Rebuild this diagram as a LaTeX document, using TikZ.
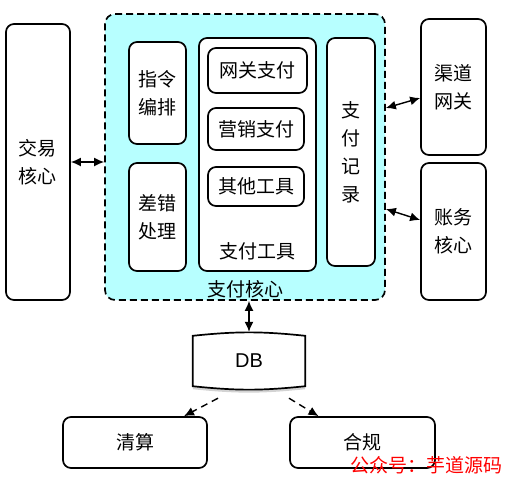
\documentclass[tikz,border=0pt]{standalone}
\usepackage{fontspec}
\newfontfamily\cjk{Noto Sans CJK SC}
\newfontfamily\latn{Liberation Sans}
\usetikzlibrary{arrows.meta,shadows}
\definecolor{corecyan}{RGB}{183,255,255}
\tikzset{
  box/.style={draw,line width=1.7pt,rounded corners=8pt,fill=white,inner sep=0pt,align=center,
    font=\cjk\fontsize{19}{28}\selectfont},
  lbl/.style={inner sep=0pt,align=center,font=\cjk\fontsize{19}{28}\selectfont},
  dblarrow/.style={line width=1.4pt,{Latex[length=10pt,width=9pt]}-{Latex[length=10pt,width=9pt]}},
  dasharrow/.style={line width=1.4pt,dash pattern=on 7pt off 5pt,-{Latex[length=10pt,width=9pt]}},
}
\begin{document}
\begin{tikzpicture}[x=1pt,y=-1pt]
    \useasboundingbox (0,0) rectangle (517,485);
    % outer systems
    \node[box,minimum width=64pt,minimum height=276pt] (trade) at (38,162) {交易\\核心};
    \node[box,minimum width=65pt,minimum height=136pt] (gw) at (453.5,87) {渠道\\网关};
    \node[box,minimum width=65pt,minimum height=137pt] (acct) at (453.5,231.5) {账务\\核心};
    % payment core
    \node[box,fill=corecyan,dash pattern=on 7pt off 4pt,rounded corners=10pt,
        minimum width=280pt,minimum height=286pt] (core) at (245,157) {};
    \node[lbl] (corelbl) at ([yshift=12pt]core.south) {支付核心};
    \node[box,minimum width=57pt,minimum height=102pt] (order) at (157.5,93) {指令\\编排};
    \node[box,minimum width=57pt,minimum height=108pt] (fault) at (157.5,217) {差错\\处理};
    \node[box,minimum width=117pt,minimum height=233pt] (tools) at (257.5,154.5) {};
    \node[lbl] (toolslbl) at ([yshift=21pt]tools.south) {支付工具};
    \node[box,minimum width=99pt,minimum height=45pt] (gwpay) at (257.5,70.5) {网关支付};
    \node[box,minimum width=96pt,minimum height=42pt] (mktpay) at (256,129) {营销支付};
    \node[box,minimum width=96pt,minimum height=39pt] (other) at (256,186.5) {其他工具};
    \node[box,minimum width=48pt,minimum height=228pt] (record) at (351,152) {支\\付\\记\\录};
    % storage and consumers
    \node[minimum width=112pt,minimum height=58pt,inner sep=0pt] (db) at (249,361) {};
    \draw[line width=1.7pt,fill=white,drop shadow={shadow xshift=0pt,shadow yshift=-3pt,opacity=0.35}]
        ([yshift=-4pt]db.north west) to[bend left=6] ([yshift=-4pt]db.north east)
        -- ([yshift=4pt]db.south east) to[bend left=6] ([yshift=4pt]db.south west) -- cycle;
    \node[font=\latn\fontsize{20}{22}\selectfont] (dblbl) at (db.center) {DB};
    \node[box,minimum width=144pt,minimum height=51pt] (clear) at (135,442.5) {清算};
    \node[box,minimum width=145pt,minimum height=51pt] (comply) at (362.5,442.5) {合规};
    % connectors
    \draw[dblarrow] (trade.east) -- (trade.east -| core.west);
    \draw[dblarrow] ([yshift=49pt]core.east) -- ([yshift=-11pt]gw.west);
    \draw[dblarrow] ([yshift=-52pt]core.east) -- ([yshift=11.5pt]acct.west);
    \draw[dblarrow] (db.north |- core.south) -- (db.north);
    \draw[dasharrow] ([xshift=-31pt,yshift=-8pt]db.south) -- ([xshift=49pt]clear.north);
    \draw[dasharrow] ([xshift=40pt,yshift=-8pt]db.south) -- ([xshift=-44pt]comply.north);
    % watermark
    \node[font=\cjk\fontsize{19}{22}\selectfont,text=red,inner sep=0pt] (mark) at (426.5,465) {公众号：芋道源码};
\end{tikzpicture}
\end{document}
